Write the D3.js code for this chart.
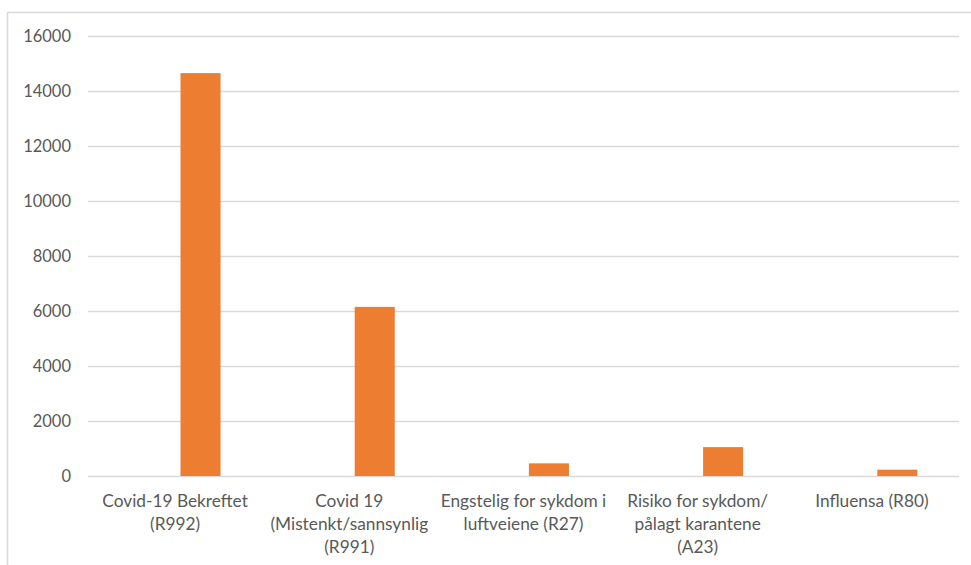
<!DOCTYPE html>
<html>
<head>
<meta charset="utf-8">
<script src="https://cdn.jsdelivr.net/npm/d3@7"></script>
<style>
  html, body { margin: 0; padding: 0; background: #fff; }
  svg { display: block; }
</style>
</head>
<body>
<svg id="chart" width="971" height="565"></svg>
<script>
// Diagnosis codes (line breaks as shown under the axis)
const categories = [
  "Covid-19 Bekreftet\n(R992)",
  "Covid 19\n(Mistenkt/sannsynlig\n(R991)",
  "Engstelig for sykdom i\nluftveiene (R27)",
  "Risiko for sykdom/\npålagt karantene\n(A23)",
  "Influensa (R80)"
];
// Two series: the first has no values, the second is the orange one
const seriesNames = ["s1", "s2"];
const series1 = [0, 0, 0, 0, 0];
const series2 = [14650, 6150, 460, 1050, 230];
const yTicks = [0, 2000, 4000, 6000, 8000, 10000, 12000, 14000, 16000];

const svg = d3.select("#chart");
const W = 971, H = 565;
const plot = { left: 88, right: 959, top: 36, bottom: 476 };
const textColor = "#595959";
const gridColor = "#d9d9d9";
const font = "Lato, 'Open Sans', sans-serif";

// Chart-area frame
svg.append("rect")
  .attr("x", 7.5).attr("y", 12.5)
  .attr("width", W + 10).attr("height", H + 10)
  .attr("fill", "none").attr("stroke", gridColor).attr("stroke-width", 1.5);

const x = d3.scaleBand().domain(d3.range(categories.length))
  .range([plot.left, plot.right]).paddingInner(0).paddingOuter(0);

// Clustered layout: gap width and (negative) overlap between series
const gap = 2.08, overlap = -0.27;
const n = seriesNames.length;
const bw = x.bandwidth() / (n - (n - 1) * overlap + gap);
const step = bw * (1 - overlap);
const groupW = bw + step * (n - 1);
const subX = k => x.bandwidth() / 2 - groupW / 2 + seriesNames.indexOf(k) * step;

const y = d3.scaleLinear().domain([0, 16000]).range([plot.bottom, plot.top]);

// Gridlines and y labels
const yAxis = d3.axisLeft(y).tickValues(yTicks)
  .tickSize(-(plot.right - plot.left)).tickPadding(17).tickFormat(d3.format("d"));
const gy = svg.append("g").attr("transform", `translate(${plot.left},0)`).call(yAxis);
gy.select(".domain").remove();
gy.selectAll(".tick line").attr("stroke", gridColor).attr("stroke-width", 1.5);
gy.selectAll(".tick text")
  .attr("fill", textColor).attr("font-family", font).attr("font-size", "16.5px");

// Bars
const data = categories.map((c, i) => ({ i, s1: series1[i], s2: series2[i] }));
const groups = svg.append("g").selectAll("g").data(data).join("g")
  .attr("transform", d => `translate(${x(d.i)},0)`);
groups.selectAll("rect")
  .data(d => seriesNames.map(k => ({ k, v: d[k] })).filter(e => e.v > 0))
  .join("rect")
  .attr("x", e => subX(e.k))
  .attr("width", bw)
  .attr("y", e => y(e.v))
  .attr("height", e => y(0) - y(e.v))
  .attr("fill", "#ed7d31");

// Category labels
const gx = svg.append("g");
categories.forEach((c, i) => {
  const cx = x(i) + x.bandwidth() / 2;
  const t = gx.append("text")
    .attr("x", cx)
    .attr("y", 507)
    .attr("text-anchor", "middle")
    .attr("fill", textColor)
    .attr("font-family", font)
    .attr("font-size", "17.3px");
  c.split("\n").forEach((line, j) => {
    t.append("tspan")
      .attr("x", cx)
      .attr("dy", j === 0 ? 0 : 23)
      .text(line);
  });
});
</script>
</body>
</html>
